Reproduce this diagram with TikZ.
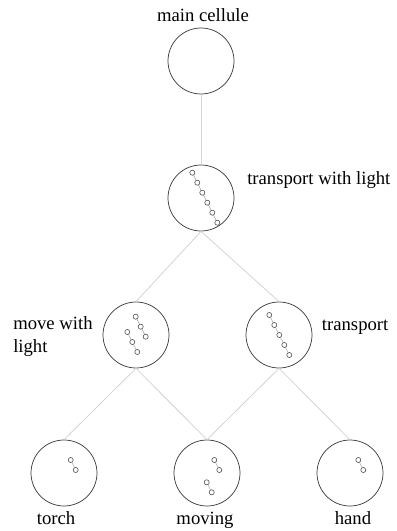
\documentclass[tikz,border=0pt]{standalone}
\usepackage{fontspec}
\setmainfont{Liberation Serif}
\definecolor{mylinkgray}{RGB}{212,212,212}
\definecolor{myrimgray}{RGB}{60,60,60}
\definecolor{mydotgray}{RGB}{80,80,80}
\newcommand{\sizecell}{49.5pt}
\newcommand{\dotrun}[4]{%
    \begin{scope}[shift={(#1)}]
        \draw[runline] (#2,#3) -- ++({5*(#4-1)},{10*(#4-1)});
        \foreach \k in {1,...,#4}
            \draw[dotmark] ({#2+5*(\k-1)},{#3+10*(\k-1)}) circle[radius=1.9pt];
    \end{scope}}
\tikzset{
    cell/.style={draw=myrimgray, circle, minimum size=\sizecell, inner sep=0pt, line width=0.55pt},
    caption/.style={inner sep=0pt, font=\fontsize{14}{17}\selectfont},
    link/.style={draw=mylinkgray, line width=0.6pt},
    runline/.style={draw=mydotgray!55, line width=0.4pt},
    dotmark/.style={draw=mydotgray, fill=white, line width=0.45pt}
}
\begin{document}
\begin{tikzpicture}[x=0.75pt, y=-0.75pt]
    \useasboundingbox (0,0) rectangle (396,531);

    \node[cell] (main) at (201,61) {};
    \node[cell] (tlight) at (201,198) {};
    \node[cell] (mlight) at (136,335) {};
    \node[cell] (trans) at (279,335) {};
    \node[cell] (torch) at (64,473) {};
    \node[cell] (moving) at (207,473) {};
    \node[cell] (hand) at (350,473) {};

    \node[caption, anchor=base] (maincap) at (203,21.7) {main cellule};
    \node[caption, anchor=base west] (tlightcap) at (247,184) {transport with light};
    \node[caption, anchor=north west, align=left] (mlightcap) at (13,316.5) {move with\\light};
    \node[caption, anchor=base west] (transcap) at (321.7,330) {transport};
    \node[caption, anchor=base] (torchcap) at (56,524) {torch};
    \node[caption, anchor=base] (movingcap) at (205,524) {moving};
    \node[caption, anchor=base] (handcap) at (353,524) {hand};

    \draw[link] (main.south) -- (tlight.north);
    \draw[link] (tlight.south) -- (mlight.north);
    \draw[link] (tlight.south) -- (trans.north);
    \draw[link] (mlight.south) -- (torch.north);
    \draw[link] (mlight.south) -- (moving.north);
    \draw[link] (trans.south) -- (moving.north);
    \draw[link] (trans.south) -- (hand.north);

    % dot runs inside the cells
    \dotrun{tlight}{-8.7}{-25.3}{6}
    \dotrun{mlight}{-0.3}{-18.3}{3}
    \dotrun{mlight}{-8.7}{-3}{3}
    \dotrun{trans}{-9.7}{-20}{5}
    \dotrun{torch}{6.7}{-13}{2}
    \dotrun{moving}{7.3}{-13}{2}
    \dotrun{moving}{-0.3}{9.3}{2}
    \dotrun{hand}{8.3}{-13}{2}
\end{tikzpicture}
\end{document}
